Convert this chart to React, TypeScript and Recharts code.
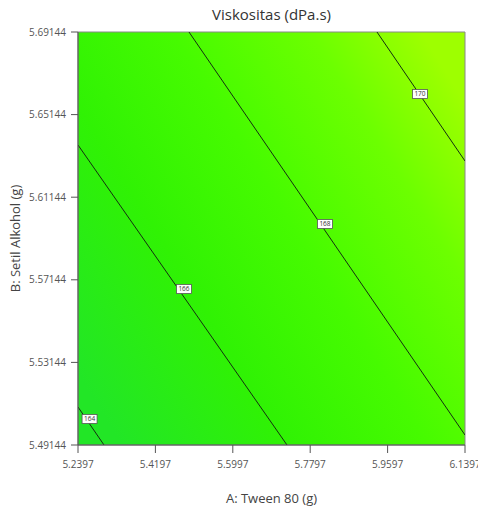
import React from 'react';
import {
  ComposedChart,
  XAxis,
  YAxis,
  Line,
  Scatter,
  ReferenceArea,
  Label,
} from 'recharts';

const xTicks = [5.2397, 5.4197, 5.5997, 5.7797, 5.9597, 6.1397];
const yTicks = [5.49144, 5.53144, 5.57144, 5.61144, 5.65144, 5.69144];
const xDomain: [number, number] = [5.2397, 6.1397];
const yDomain: [number, number] = [5.49144, 5.69144];

const contour164 = [
  { x: 5.2397, y: 5.50984 },
  { x: 5.3002, y: 5.49144 },
];
const contour166 = [
  { x: 5.2397, y: 5.63672 },
  { x: 5.72575, y: 5.49144 },
];
const contour168 = [
  { x: 5.4978, y: 5.69144 },
  { x: 6.1397, y: 5.49628 },
];
const contour170 = [
  { x: 5.935, y: 5.69144 },
  { x: 6.1397, y: 5.62897 },
];
const contourLabels = [
  { x: 5.2666, y: 5.50403, label: '164' },
  { x: 5.4862, y: 5.56698, label: '166' },
  { x: 5.8141, y: 5.59846, label: '168' },
  { x: 6.035, y: 5.6614, label: '170' },
];

const contours = [contour164, contour166, contour168, contour170];

const fmtX = (v: number) => v.toFixed(4);
const fmtY = (v: number) => v.toFixed(5);

const LabelBox = (props: any) => {
  const { cx, cy, payload } = props;
  if (cx == null || cy == null) return null;
  const w = 15;
  const h = 9;
  return (
    <g>
      <rect x={cx - w / 2} y={cy - h / 2} width={w} height={h} fill="#ffffff" stroke="#555" strokeWidth={0.8} />
      <text x={cx} y={cy + 2.3} textAnchor="middle" fontSize={6.5} fill="#333" fontFamily="'Open Sans', sans-serif">
        {payload.label}
      </text>
    </g>
  );
};

export default function App() {
  return (
    <div style={{ position: 'absolute', left: 0, top: 0, fontFamily: "'Open Sans', sans-serif" }}>
      <ComposedChart
        width={478}
        height={506}
        margin={{ top: 32, right: 13, bottom: 0, left: 0 }}
      >
        <defs>
          <linearGradient id="bgGrad" x1="0" y1="0.83" x2="1" y2="0.17">
            <stop offset="0" stopColor="#22e626" />
            <stop offset="0.3" stopColor="#30f204" />
            <stop offset="0.55" stopColor="#46fb00" />
            <stop offset="0.8" stopColor="#6cff00" />
            <stop offset="1" stopColor="#9eff00" />
          </linearGradient>
        </defs>
        <text x={271.5} y={20} textAnchor="middle" fontSize={15} fill="#333" fontFamily="'Open Sans', sans-serif">
          Viskositas (dPa.s)
        </text>
        <XAxis
          dataKey="x"
          type="number"
          domain={xDomain}
          ticks={xTicks}
          tickFormatter={fmtX}
          allowDataOverflow
          height={61}
          tickSize={8}
          tickMargin={8}
          stroke="#555"
          tick={{ fontSize: 10, fill: '#555' }}
          interval={0}
        >
          <Label value="A: Tween 80 (g)" position="insideBottom" offset={3} style={{ fontSize: 13, fill: '#444' }} />
        </XAxis>
        <YAxis
          dataKey="y"
          type="number"
          domain={yDomain}
          ticks={yTicks}
          tickFormatter={fmtY}
          allowDataOverflow
          width={78}
          tickSize={7}
          tickMargin={5}
          stroke="#555"
          tick={{ fontSize: 10, fill: '#555' }}
          interval={0}
        >
          <Label value="B: Setil Alkohol (g)" angle={-90} position="insideLeft" offset={15} style={{ fontSize: 13, fill: '#444', textAnchor: 'middle' }} />
        </YAxis>
        <ReferenceArea
          x1={xDomain[0]}
          x2={xDomain[1]}
          y1={yDomain[0]}
          y2={yDomain[1]}
          fill="url(#bgGrad)"
          fillOpacity={1}
          stroke="#888"
          strokeWidth={1}
        />
        {contours.map((c, i) => (
          <Line
            key={i}
            data={c}
            dataKey="y"
            type="linear"
            stroke="#143010"
            strokeWidth={1}
            dot={false}
            activeDot={false}
            isAnimationActive={false}
          />
        ))}
        <Scatter data={contourLabels} dataKey="y" shape={LabelBox} isAnimationActive={false} />
      </ComposedChart>
    </div>
  );
}
